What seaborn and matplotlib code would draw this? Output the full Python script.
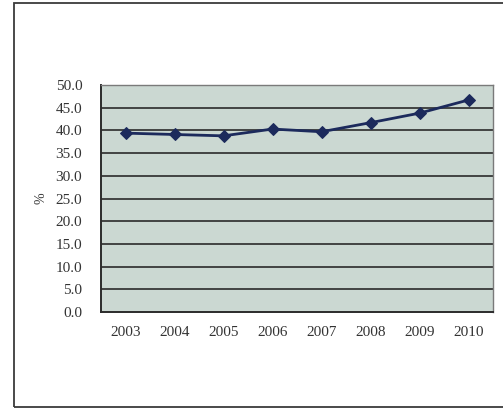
import matplotlib
matplotlib.use("Agg")
import matplotlib.pyplot as plt
import matplotlib.patches as mpatches
import numpy as np
import pandas as pd
import seaborn as sns

years = ["2003", "2004", "2005", "2006", "2007", "2008", "2009", "2010"]
share = [39.4, 39.1, 38.8, 40.3, 39.7, 41.7, 43.8, 46.7]
y_ticks = [0, 5, 10, 15, 20, 25, 30, 35, 40, 45, 50]

sns.set_style("white")
plt.rcParams["font.family"] = ["Liberation Serif", "DejaVu Serif"]

df = pd.DataFrame({"year": years, "share": share})
df["pos"] = np.arange(len(years))

W, H = 503, 409
fig = plt.figure(figsize=(W / 100, H / 100), dpi=100)
fig.patch.set_facecolor("white")

# outer frame of the chart box
fig.patches.append(mpatches.Rectangle((14 / W, 1 - 407 / H), 1.0, (407 - 3) / H,
                                      transform=fig.transFigure, fill=False,
                                      edgecolor="#3a3a3a", linewidth=1.3))

left, right, top, bottom = 101, 493, 85, 312
ax = fig.add_axes([left / W, 1 - bottom / H, (right - left) / W, (bottom - top) / H])
ax.set_facecolor("#cbd8d2")

sns.lineplot(data=df, x="pos", y="share", ax=ax, color="#1c2a5c", linewidth=2.0,
             marker="D", markersize=6, markeredgecolor="#1c2a5c")

ax.set_xlim(-0.5, len(years) - 0.5)
ax.set_ylim(0, 50)
ax.set_yticks(y_ticks)
ax.set_yticklabels([f"{v:.1f}" for v in y_ticks], fontsize=11, color="#333333")
ax.set_xticks(df["pos"])
ax.set_xticklabels(years, fontsize=11, color="#333333")
ax.tick_params(axis="x", length=0, pad=10)
ax.tick_params(axis="y", length=0, pad=13.5)
for v in y_ticks[1:-1]:
    ax.axhline(v, color="#2b2b2b", linewidth=1.2, zorder=1)

ax.set_xlabel("")
ax.set_ylabel("%", fontsize=10, color="#333333")
ax.yaxis.set_label_coords((47 - left) / (right - left), 0.5)

for side in ["left", "bottom"]:
    ax.spines[side].set_color("#2b2b2b")
    ax.spines[side].set_linewidth(1.4)
for side in ["top", "right"]:
    ax.spines[side].set_color("#7a7a7a")
    ax.spines[side].set_linewidth(1.0)

fig.savefig("out.png", dpi=100)
